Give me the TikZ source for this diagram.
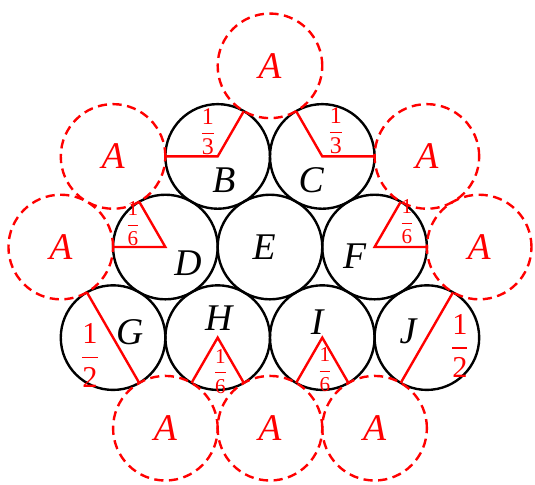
\documentclass[tikz,border=0pt]{standalone}
\usepackage{amsmath}
\usepackage{fontspec}
\setmainfont{Liberation Serif}
\usetikzlibrary{positioning}

\newcommand{\frc}[2]{$\dfrac{\text{#1}}{\text{#2}}$}

\tikzset{
  ball/.style={circle, draw=black, line width=1.3pt, minimum size=2cm, inner sep=0pt, outer sep=0pt},
  ghost/.style={circle, draw=red, text=red, line width=1.3pt, dash pattern=on 5pt off 3pt,
    minimum size=2cm, inner sep=0pt, outer sep=0pt, font=\fontsize{20.5}{21}\selectfont\itshape},
  tag/.style={inner sep=0pt, font=\fontsize{20.5}{21}\selectfont\itshape},
  cut/.style={red, line width=1.3pt},
  half/.style={red, inner sep=0pt, font=\fontsize{16.5}{17}\selectfont},
  third/.style={red, inner sep=0pt, font=\fontsize{13}{14}\selectfont},
  sixth/.style={red, inner sep=0pt, font=\fontsize{11.5}{12}\selectfont},
}

\begin{document}
\begin{tikzpicture}
    \useasboundingbox (-5.162,-4.532) rectangle (5.067,4.723);

    % Row height of the packing
    \def\h{1.7321}

    % Solid balls
    \node[ball] (B) at (-1,\h) {};
    \node[ball] (C) at (1,\h) {};
    \node[ball] (D) at (-2,0) {};
    \node[ball] (E) at (0,0) {};
    \node[ball] (F) at (2,0) {};
    \node[ball] (G) at (-3,-\h) {};
    \node[ball] (H) at (-1,-\h) {};
    \node[ball] (I) at (1,-\h) {};
    \node[ball] (J) at (3,-\h) {};

    % Dashed balls
    \node[ghost] (A1) at (0,2*\h) {A};
    \node[ghost] (A2) at (-3,\h) {A};
    \node[ghost] (A3) at (3,\h) {A};
    \node[ghost] (A4) at (-4,0) {A};
    \node[ghost] (A5) at (4,0) {A};
    \node[ghost] (A6) at (-2,-2*\h) {A};
    \node[ghost] (A7) at (0,-2*\h) {A};
    \node[ghost] (A8) at (2,-2*\h) {A};

    % Names of the balls
    \node[tag] (tB) at ([shift={(0.12,-0.46)}]B) {B};
    \node[tag] (tC) at ([shift={(-0.21,-0.46)}]C) {C};
    \node[tag] (tD) at ([shift={(0.43,-0.31)}]D) {D};
    \node[tag] (tE) at ([shift={(-0.11,0)}]E) {E};
    \node[tag] (tF) at ([shift={(-0.38,-0.17)}]F) {F};
    \node[tag] (tG) at ([shift={(0.32,0.11)}]G) {G};
    \node[tag] (tH) at ([shift={(0.02,0.37)}]H) {H};
    \node[tag] (tI) at ([shift={(-0.1,0.29)}]I) {I};
    \node[tag] (tJ) at ([shift={(-0.36,0.12)}]J) {J};

    % Cuts
    \draw[cut] (B.west) -- (B.center) -- (B.60);
    \draw[cut] (C.120) -- (C.center) -- (C.east);
    \draw[cut] (D.west) -- (D.center) -- (D.120);
    \draw[cut] (F.east) -- (F.center) -- (F.60);
    \draw[cut] (G.120) -- (G.-60);
    \draw[cut] (J.60) -- (J.-120);
    \draw[cut] (H.-120) -- (H.center) -- (H.-60);
    \draw[cut] (I.-120) -- (I.center) -- (I.-60);

    % Fractions
    \node[third] (fB) at ([shift={(-0.19,0.48)}]B) {\frc{1}{3}};
    \node[third] (fC) at ([shift={(0.26,0.5)}]C) {\frc{1}{3}};
    \node[sixth] (fD) at ([shift={(-0.62,0.44)}]D) {\frc{1}{6}};
    \node[sixth] (fF) at ([shift={(0.62,0.48)}]F) {\frc{1}{6}};
    \node[half] (fG) at ([shift={(-0.44,-0.34)}]G) {\frc{1}{2}};
    \node[half] (fJ) at ([shift={(0.63,-0.16)}]J) {\frc{1}{2}};
    \node[sixth] (fH) at ([shift={(0.05,-0.65)}]H) {\frc{1}{6}};
    \node[sixth] (fI) at ([shift={(0.05,-0.62)}]I) {\frc{1}{6}};
\end{tikzpicture}
\end{document}
